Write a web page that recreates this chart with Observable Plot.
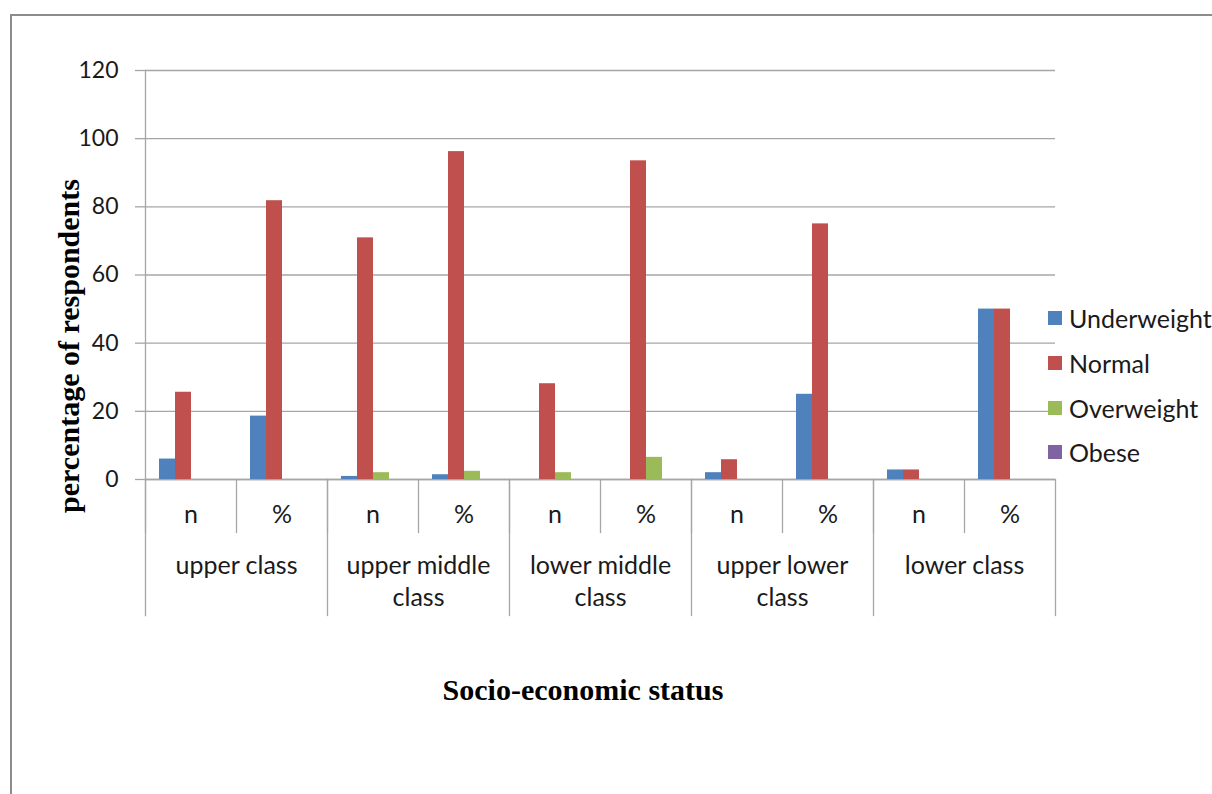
<!DOCTYPE html>
<html>
<head>
<meta charset="utf-8">
<script src="https://cdn.jsdelivr.net/npm/d3@7"></script>
<script src="https://cdn.jsdelivr.net/npm/@observablehq/plot@0.6"></script>
<style>
  html, body { margin: 0; padding: 0; background: #fff; }
  #wrap { position: relative; width: 1212px; height: 794px; overflow: hidden; font-family: Lato, "Liberation Sans", sans-serif; }
  #border { position: absolute; left: 10px; top: 14px; width: 1220px; height: 800px; border-left: 2px solid #8c8c8c; border-top: 2px solid #8c8c8c; box-sizing: border-box; }
  #chart { position: absolute; left: 0; top: 0; }
  .title { position: absolute; font-family: "Liberation Serif", "DejaVu Serif", serif; font-weight: bold; font-size: 30px; color: #000; white-space: nowrap; line-height: 1; }
  #xtitle { left: 583px; top: 690px; transform: translate(-50%, -50%); }
  #ytitle { left: 69px; top: 346px; transform: translate(-50%, -50%) rotate(-90deg); }
  #legend { position: absolute; left: 1048px; top: 296px; font-size: 25px; color: #1a1a1a; }
  .li { display: flex; align-items: center; height: 44.7px; }
  .sw { width: 14px; height: 14px; margin-right: 7px; }
</style>
</head>
<body>
<div id="wrap">
  <div id="border"></div>
  <div id="chart"></div>
  <div class="title" id="xtitle">Socio-economic status</div>
  <div class="title" id="ytitle">percentage of respondents</div>
  <div id="legend"></div>
</div>
<script>
// ---- data ----
const classes = ["upper class", "upper middle class", "lower middle class", "upper lower class", "lower class"];
const classLabels = ["upper class", "upper middle\nclass", "lower middle\nclass", "upper lower\nclass", "lower class"];
const subgroups = ["n", "%"];
const series = ["Underweight", "Normal", "Overweight", "Obese"];
const colors = ["#4F81BD", "#C0504D", "#9BBB59", "#8064A2"];
// values per subgroup, in order: upper n, upper %, upper-middle n, upper-middle %, ...
const underweight = [6, 18.6, 0.9, 1.4, 0, 0, 2, 25, 2.8, 50];
const normal      = [25.6, 81.8, 70.9, 96.2, 28.1, 93.5, 5.8, 75, 2.8, 50];
const overweight  = [0, 0, 2, 2.4, 2, 6.5, 0, 0, 0, 0];
const obese       = [0, 0, 0, 0, 0, 0, 0, 0, 0, 0];
const yTicks = [0, 20, 40, 60, 80, 100, 120];

// ---- build tables ----
const keys = [];
const subRows = [];
classes.forEach(c => subgroups.forEach(s => { keys.push(c + "|" + s); subRows.push({key: c + "|" + s, sub: s}); }));
const seriesValues = [underweight, normal, overweight, obese];
const rows = [];
keys.forEach((k, i) => series.forEach((s, j) => rows.push({key: k, series: s, value: seriesValues[j][i]})));
const classRows = classes.map((c, i) => ({key: c + "|n", label: classLabels[i]}));

// ---- layout ----
const W = 1212, H = 640, MT = 70, MB = 161, ML = 144, MR = 156;
const PH = H - MT - MB;
const gray = "#a6a6a6";
const font = "Lato, 'Liberation Sans', sans-serif";

const marks = [
  Plot.gridY(yTicks, {stroke: gray, strokeOpacity: 1, strokeWidth: 1.3}),
  Plot.ruleY([0], {stroke: gray, strokeWidth: 1.3}),
  Plot.frame({anchor: "left", stroke: gray, strokeWidth: 1.3, insetTop: PH, insetBottom: -53}),
  Plot.frame({anchor: "left", stroke: gray, strokeWidth: 1.3, insetBottom: -136, fx: () => keys[0]}),
  ...classes.slice(1).map(c => Plot.frame({anchor: "left", stroke: gray, strokeWidth: 1.3, insetTop: PH, insetBottom: -136, fx: () => c + "|n"})),
  Plot.frame({anchor: "right", stroke: gray, strokeWidth: 1.3, insetTop: PH, insetBottom: -136, fx: () => keys[keys.length - 1]}),
  Plot.axisY(yTicks, {tickSize: 10, tickPadding: 17, fontSize: 23, stroke: gray, strokeWidth: 1.3, label: null, fill: "#1a1a1a"}),
  Plot.barY(rows, {fx: "key", x: "series", y: "value", fill: "series"}),
  Plot.text(subRows, {fx: "key", text: "sub", frameAnchor: "bottom", dy: 43, fontSize: 25, fill: "#1a1a1a"}),
  Plot.text(classRows, {fx: "key", text: "label", frameAnchor: "bottom-right", textAnchor: "middle", lineAnchor: "top", dy: 72, lineHeight: 1.28, fontSize: 25, fill: "#1a1a1a"})
];

const chart = Plot.plot({
  width: W, height: H,
  marginTop: MT, marginBottom: MB, marginLeft: ML, marginRight: MR,
  style: {fontFamily: font, background: "transparent", overflow: "visible"},
  fx: {domain: keys, padding: 0, axis: null, label: null},
  x: {domain: series, paddingInner: 0, paddingOuter: 0.76, axis: null, label: null},
  y: {domain: [0, 120], axis: null, label: null},
  color: {domain: series, range: colors},
  marks
});
document.getElementById("chart").appendChild(chart);

// legend
const lg = document.getElementById("legend");
series.forEach((s, i) => {
  const d = document.createElement("div");
  d.className = "li";
  d.innerHTML = `<span class="sw" style="background:${colors[i]}"></span><span>${s}</span>`;
  lg.appendChild(d);
});
</script>
</body>
</html>
